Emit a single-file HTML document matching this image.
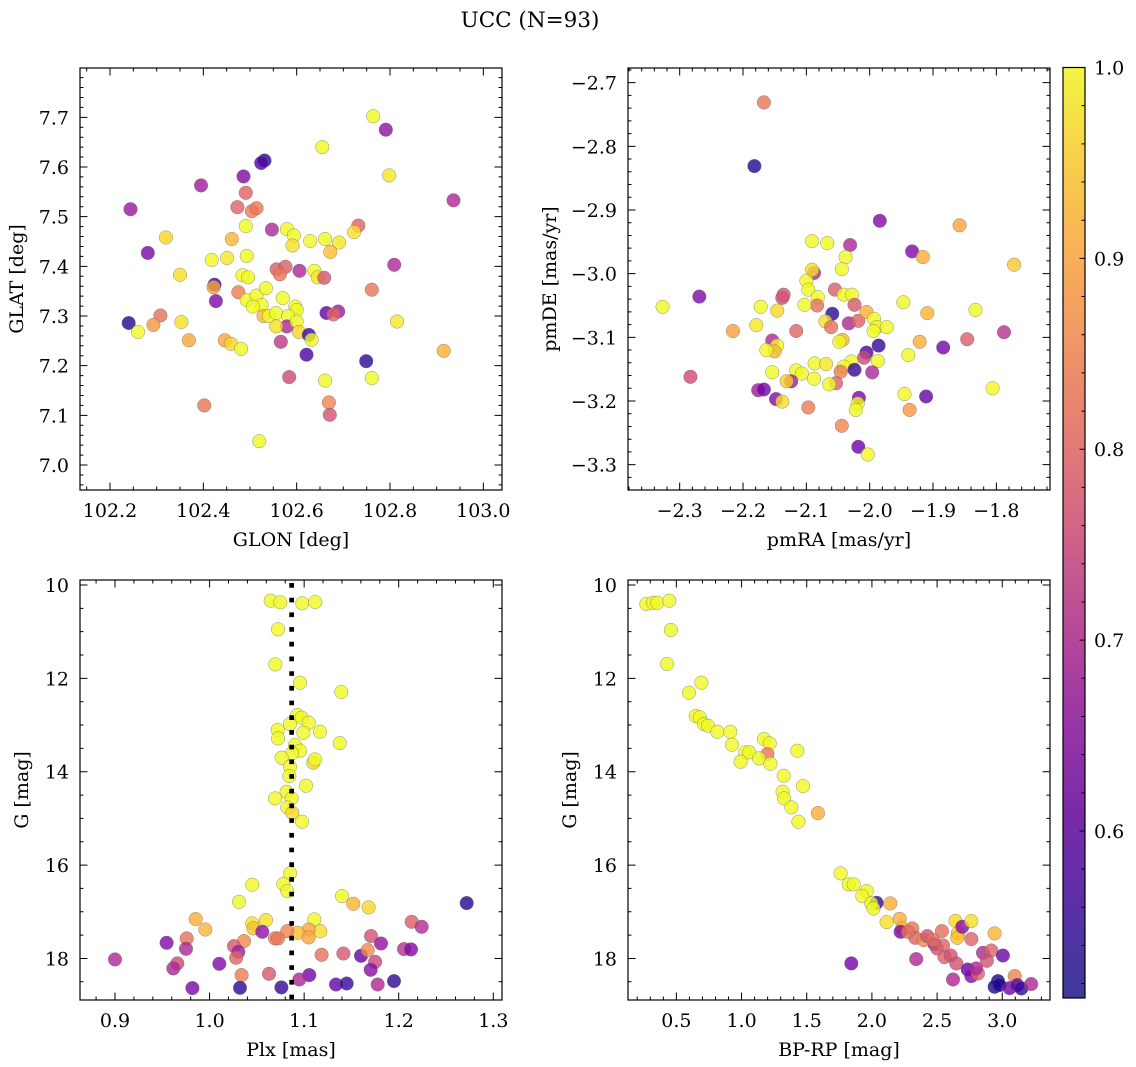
<!DOCTYPE html>
<html><head><meta charset="utf-8"><title>UCC (N=93)</title>
<style>
html,body{margin:0;padding:0;background:#fff;}
svg{display:block;font-family:"DejaVu Serif","Liberation Serif",serif;}
</style></head>
<body>
<svg id="fig" width="1136" height="1067" viewBox="0 0 1136 1067" xmlns="http://www.w3.org/2000/svg">
<defs>
<linearGradient id="plasmaGrad" x1="0" y1="1" x2="0" y2="0">
<stop offset="0" stop-color="#3d3a99"/>
<stop offset="0.1" stop-color="#5a2fa6"/>
<stop offset="0.2" stop-color="#7a2aa8"/>
<stop offset="0.3" stop-color="#9a36a6"/>
<stop offset="0.4" stop-color="#b84a98"/>
<stop offset="0.5" stop-color="#d06487"/>
<stop offset="0.6" stop-color="#e27c76"/>
<stop offset="0.7" stop-color="#f09566"/>
<stop offset="0.8" stop-color="#f8b057"/>
<stop offset="0.9" stop-color="#f8cf4a"/>
<stop offset="1" stop-color="#f2f543"/>
</linearGradient>
</defs>
<text x="530" y="27" font-size="21.5" text-anchor="middle">UCC (N=93)</text>
</svg>
<script>
// ---- Panel 1: GLON / GLAT ----
const glon = [102.764,102.791,102.655,102.531,102.524,102.486,102.798,102.395,102.936,102.244,102.491,102.473,102.504,102.514,102.491,102.547,102.579,102.594,102.591,102.461,102.32,102.629,102.661,102.691,102.672,102.732,102.723,102.281,102.418,102.451,102.493,102.35,102.484,102.496,102.557,102.576,102.564,102.606,102.638,102.645,102.659,102.424,102.422,102.427,102.475,102.493,102.514,102.534,102.525,102.506,102.57,102.597,102.6,102.761,102.809,102.664,102.689,102.679,102.529,102.541,102.556,102.582,102.579,102.556,102.6,102.605,102.626,102.632,102.24,102.26,102.308,102.293,102.353,102.369,102.446,102.459,102.481,102.566,102.621,102.749,102.761,102.661,102.584,102.815,102.915,102.669,102.671,102.402,102.52];
const glat = [7.702,7.675,7.640,7.613,7.608,7.581,7.583,7.563,7.533,7.515,7.548,7.519,7.511,7.517,7.481,7.474,7.475,7.462,7.442,7.455,7.458,7.451,7.455,7.448,7.429,7.482,7.469,7.427,7.413,7.417,7.421,7.383,7.382,7.378,7.394,7.399,7.384,7.391,7.391,7.378,7.377,7.363,7.358,7.330,7.348,7.332,7.341,7.356,7.322,7.319,7.336,7.319,7.312,7.353,7.403,7.306,7.309,7.303,7.300,7.300,7.306,7.300,7.279,7.279,7.289,7.268,7.262,7.252,7.286,7.268,7.301,7.282,7.288,7.251,7.251,7.244,7.234,7.248,7.222,7.209,7.175,7.170,7.177,7.289,7.230,7.126,7.101,7.120,7.048];
const prob1 = [1.0,0.66,1.0,0.53,0.58,0.64,0.98,0.68,0.7,0.67,0.8,0.8,0.84,0.83,1.0,0.7,1.0,1.0,0.97,0.92,0.96,1.0,1.0,0.98,0.93,0.8,0.97,0.63,1.0,0.98,1.0,0.97,1.0,1.0,0.79,0.79,0.83,0.7,1.0,0.98,0.78,0.55,0.9,0.64,0.84,1.0,1.0,1.0,1.0,1.0,1.0,1.0,1.0,0.83,0.7,0.6,0.68,0.8,0.92,1.0,1.0,1.0,0.7,0.97,1.0,0.96,0.55,1.0,0.53,1.0,0.82,0.88,0.97,0.9,0.9,0.96,1.0,0.73,0.57,0.54,1.0,1.0,0.76,0.98,0.91,0.85,0.77,0.83,1.0];
// ---- Panel 2: pmRA / pmDE ----
const pmra = [-2.167,-2.182,-1.984,-1.858,-1.772,-2.091,-2.067,-2.031,-1.933,-1.916,-2.038,-2.044,-2.088,-2.091,-2.1,-2.097,-2.055,-2.041,-2.028,-2.024,-2.082,-2.083,-2.103,-2.138,-2.136,-2.269,-2.327,-2.172,-2.146,-2.059,-2.07,-2.061,-2.033,-2.018,-2.005,-1.993,-1.989,-1.973,-1.994,-1.947,-1.909,-1.833,-2.179,-2.216,-2.116,-1.788,-1.846,-1.884,-1.921,-1.939,-1.986,-2.005,-2.009,-1.987,-2.043,-2.048,-2.154,-2.146,-2.15,-2.163,-2.087,-2.069,-2.029,-2.041,-2.024,-2.046,-1.996,-2.154,-2.116,-2.107,-2.088,-2.124,-2.131,-2.053,-2.064,-2.283,-2.176,-2.167,-2.148,-2.138,-2.097,-2.017,-2.019,-2.022,-1.945,-1.937,-1.911,-1.806,-2.044,-2.018,-2.003];
const pmde = [-2.731,-2.831,-2.917,-2.924,-2.986,-2.949,-2.952,-2.955,-2.965,-2.974,-2.974,-2.993,-2.999,-2.994,-3.011,-3.025,-3.025,-3.033,-3.033,-3.049,-3.037,-3.05,-3.049,-3.038,-3.033,-3.036,-3.052,-3.052,-3.058,-3.063,-3.075,-3.084,-3.078,-3.074,-3.06,-3.071,-3.084,-3.084,-3.09,-3.045,-3.062,-3.057,-3.081,-3.09,-3.09,-3.092,-3.103,-3.116,-3.107,-3.128,-3.113,-3.124,-3.132,-3.137,-3.104,-3.107,-3.105,-3.113,-3.122,-3.12,-3.141,-3.142,-3.138,-3.146,-3.151,-3.154,-3.155,-3.155,-3.152,-3.157,-3.165,-3.169,-3.169,-3.172,-3.174,-3.162,-3.183,-3.182,-3.197,-3.201,-3.21,-3.195,-3.204,-3.214,-3.189,-3.214,-3.193,-3.18,-3.239,-3.272,-3.284];
const prob2 = [0.83,0.53,0.64,0.9,0.94,1.0,1.0,0.7,0.64,0.91,1.0,1.0,0.7,0.97,1.0,1.0,0.79,1.0,1.0,0.78,1.0,0.82,1.0,0.75,0.78,0.64,1.0,1.0,0.96,0.54,0.97,0.82,0.7,0.8,0.91,1.0,1.0,1.0,1.0,1.0,0.92,1.0,0.98,0.89,0.8,0.72,0.79,0.62,0.91,1.0,0.55,0.57,0.76,1.0,0.92,1.0,0.7,1.0,0.92,1.0,1.0,0.98,1.0,1.0,0.55,0.84,0.7,1.0,1.0,1.0,1.0,0.68,0.95,0.8,1.0,0.76,0.68,0.62,0.64,0.97,0.84,0.63,1.0,1.0,1.0,0.88,0.6,1.0,0.85,0.61,1.0];
// ---- Panel 3: Plx / G ----
const plx = [1.0646,1.0748,1.098,1.1118,1.0724,1.0695,1.0956,1.1393,1.0928,1.0974,1.1048,1.085,1.072,1.0992,1.1168,1.0724,1.1376,1.0903,1.0956,1.087,1.0762,1.1097,1.1115,1.085,1.0843,1.102,1.0815,1.0692,1.0867,1.0822,1.0875,1.0978,1.085,1.078,1.0822,1.0452,1.0311,1.14,1.152,1.1682,1.2719,0.9853,0.9955,1.0452,1.0463,1.0597,1.0558,1.1107,1.1171,1.1048,1.0932,1.0822,1.0692,1.0724,1.1048,1.2137,1.2243,1.1707,1.1813,0.9546,0.9758,0.9751,1.0364,1.0258,1.0304,1.028,1.1185,1.1415,1.1601,1.1672,1.175,1.2056,1.213,0.9,0.9659,0.9617,1.0103,1.0339,1.0628,1.1704,1.1055,1.0949,1.195,1.1337,1.145,1.1778,0.9818,1.0322,1.0759];
const gmag3 = [10.336,10.371,10.393,10.364,10.95,11.7,12.093,12.293,12.786,12.843,12.95,12.979,13.107,13.164,13.143,13.286,13.386,13.429,13.55,13.607,13.7,13.807,13.736,13.893,14.093,14.3,14.429,14.571,14.571,14.764,14.879,15.071,16.179,16.407,16.557,16.421,16.786,16.664,16.829,16.907,16.814,17.157,17.379,17.25,17.357,17.179,17.429,17.164,17.414,17.379,17.45,17.414,17.571,17.571,17.55,17.214,17.321,17.521,17.679,17.664,17.571,17.793,17.629,17.736,17.857,17.986,17.921,17.893,17.943,17.821,18.071,17.8,17.807,18.021,18.107,18.214,18.114,18.357,18.329,18.243,18.357,18.45,18.486,18.557,18.536,18.557,18.636,18.629,18.621];
const prob3 = [1,1,1,1,1,1,1,1,1,1,1,1,1,1,1,1,1,1,1,1,1,0.96,1,1,1,1,1,1,1,1,0.96,1,1,1,1,1,1,1,0.92,0.96,0.53,0.91,0.92,0.97,0.93,0.97,0.66,1,0.97,0.9,0.93,0.85,0.84,0.83,0.9,0.79,0.71,0.77,0.66,0.64,0.82,0.7,0.86,0.78,0.68,0.8,0.82,0.78,0.6,0.86,0.75,0.72,0.64,0.7,0.76,0.7,0.64,0.84,0.78,0.65,0.62,0.7,0.54,0.6,0.55,0.7,0.63,0.54,0.55];
const plxLine = [1.0868];
// ---- Panel 4: BP-RP / G ----
const bprp = [0.27,0.321,0.354,0.446,0.457,0.428,0.692,0.597,0.648,0.679,0.712,0.743,0.814,0.914,0.927,1.172,1.216,1.029,1.06,0.993,1.198,1.134,1.221,1.428,1.323,1.471,1.315,1.326,1.382,1.586,1.436,1.76,1.822,1.86,1.96,1.926,2.036,1.995,2.011,2.141,2.113,2.213,2.233,2.22,2.31,2.333,2.397,2.425,2.481,2.501,2.537,2.545,2.557,2.604,2.647,2.64,2.66,2.655,2.693,2.762,2.762,2.941,2.852,2.916,2.882,3.005,2.735,2.762,2.813,2.8,2.622,2.34,1.842,2.967,2.941,2.979,3.056,3.095,3.115,3.146,3.222,2.277,2.468];
const gmag4 = [10.407,10.379,10.379,10.336,10.964,11.693,12.093,12.307,12.807,12.836,12.979,13.014,13.143,13.143,13.421,13.3,13.393,13.586,13.586,13.786,13.621,13.714,13.829,13.55,14.086,14.307,14.429,14.571,14.764,14.886,15.071,16.179,16.414,16.414,16.557,16.664,16.807,16.821,16.929,16.821,17.221,17.15,17.357,17.429,17.357,17.557,17.607,17.521,17.693,17.786,17.414,17.721,17.971,17.936,18.107,17.193,17.457,17.557,17.321,17.2,17.586,17.464,17.879,17.829,18.05,17.936,18.236,18.379,18.321,18.214,18.45,18.014,18.107,18.486,18.607,18.571,18.636,18.379,18.571,18.643,18.55,17.429,17.607];
const prob4 = [1,1,1,1,1,1,1,1,1,1,1,1,1,1,1,1,1,1,1,1,0.83,1,1,1,1,1,1,1,1,0.91,1,1,1,1,1,1,0.55,1,1,0.91,0.97,0.91,0.92,0.63,0.83,0.8,0.86,0.77,0.65,0.78,0.82,0.8,0.8,0.77,0.77,0.96,0.95,0.93,0.65,0.97,0.8,0.92,0.7,0.8,0.77,0.61,0.6,0.64,0.8,0.7,0.7,0.7,0.62,0.52,0.52,0.53,0.62,0.85,0.6,0.55,0.7,0.82,0.82];
// ---- Colorbar ----
const cbTicks = [0.6,0.7,0.8,0.9,1.0];
const cbLabels = ["0.6","0.7","0.8","0.9","1.0"];
const vmin = 0.5125, vmax = 1.0;
const p1xTicks=[102.2,102.4,102.6,102.8,103.0], p1xLabels=["102.2","102.4","102.6","102.8","103.0"];
const p1yTicks=[7.0,7.1,7.2,7.3,7.4,7.5,7.6,7.7], p1yLabels=["7.0","7.1","7.2","7.3","7.4","7.5","7.6","7.7"];
const p2xTicks=[-2.3,-2.2,-2.1,-2.0,-1.9,-1.8], p2xLabels=["\u22122.3","\u22122.2","\u22122.1","\u22122.0","\u22121.9","\u22121.8"];
const p2yTicks=[-2.7,-2.8,-2.9,-3.0,-3.1,-3.2,-3.3], p2yLabels=["\u22122.7","\u22122.8","\u22122.9","\u22123.0","\u22123.1","\u22123.2","\u22123.3"];
const p3xTicks=[0.9,1.0,1.1,1.2,1.3], p3xLabels=["0.9","1.0","1.1","1.2","1.3"];
const gTicks=[10,12,14,16,18], gLabels=["10","12","14","16","18"];
const p4xTicks=[0.5,1.0,1.5,2.0,2.5,3.0], p4xLabels=["0.5","1.0","1.5","2.0","2.5","3.0"];

const NS="http://www.w3.org/2000/svg";
const svg=document.getElementById('fig');
const FS=19;
function mk(tag,attrs,parent){const e=document.createElementNS(NS,tag);for(const k in attrs)e.setAttribute(k,attrs[k]);(parent||svg).appendChild(e);return e;}
const stops=[[0,[13,8,135]],[0.1,[65,4,157]],[0.2,[106,0,168]],[0.3,[143,13,164]],[0.4,[177,42,144]],[0.5,[204,71,120]],[0.6,[225,100,98]],[0.7,[242,132,75]],[0.8,[252,166,54]],[0.9,[252,206,37]],[1,[240,249,33]]];
function plasma(t){t=Math.max(0,Math.min(1,t));for(let i=1;i<stops.length;i++){if(t<=stops[i][0]){const a=stops[i-1],b=stops[i],f=(t-a[0])/(b[0]-a[0]);return 'rgb('+[0,1,2].map(j=>Math.round(a[1][j]+f*(b[1][j]-a[1][j]))).join(',')+')';}}return 'rgb(240,249,33)';}

function panel(cfg){
  const {name,L,T,R,B,xd,yd,xTicks,xLabels,yTicks,yLabels,xMinor,yMinor,xs,ys,ps,xlabel,ylabel,ylabelX}=cfg;
  const g=mk('g',{});
  
  
  const X=v=>L+(v-xd[0])/(xd[1]-xd[0])*(R-L);
  const Y=v=>T+(v-yd[0])/(yd[1]-yd[0])*(B-T);
  const pg=mk('g',{},g);
  
  
  const clip='clip-'+name;
  const cp=mk('clipPath',{id:clip},g);mk('rect',{x:L,y:T,width:R-L,height:B-T},cp);
  pg.setAttribute('clip-path','url(#'+clip+')');
  for(let i=0;i<xs.length;i++){
    const c=mk('circle',{cx:X(xs[i]).toFixed(1),cy:Y(ys[i]).toFixed(1),r:6.8,fill:plasma((ps[i]-vmin)/(vmax-vmin)),'fill-opacity':0.8,stroke:'#666','stroke-opacity':0.7,'stroke-width':0.5},pg);
    
    
  }
  if(cfg.after)cfg.after(g,X,Y);
  const fr=mk('rect',{x:L,y:T,width:R-L,height:B-T,fill:'none',stroke:'#000','stroke-width':1.2},g);
  
  
  let d='';
  const lo=Math.ceil(Math.min(...xd)/xMinor-1e-6),hi=Math.floor(Math.max(...xd)/xMinor+1e-6);
  for(let k=lo;k<=hi;k++){const v=k*xMinor,x=X(v);d+=`M${x},${B}v-3.5M${x},${T}v3.5`;}
  const ylo=Math.ceil(Math.min(...yd)/yMinor-1e-6),yhi=Math.floor(Math.max(...yd)/yMinor+1e-6);
  for(let k=ylo;k<=yhi;k++){const v=k*yMinor,y=Y(v);d+=`M${L},${y}h3.5M${R},${y}h-3.5`;}
  xTicks.forEach(v=>{const x=X(v);d+=`M${x},${B}v-7.5M${x},${T}v7.5`;});
  yTicks.forEach(v=>{const y=Y(v);d+=`M${L},${y}h7.5M${R},${y}h-7.5`;});
  mk('path',{d:d,stroke:'#000','stroke-width':1},g);
  xTicks.forEach((v,i)=>{const t=mk('text',{x:X(v),y:B+27,'font-size':FS,'text-anchor':'middle'},g);t.textContent=xLabels[i];
    
    });
  yTicks.forEach((v,i)=>{const t=mk('text',{x:L-11,y:Y(v)+7,'font-size':FS,'text-anchor':'end'},g);t.textContent=yLabels[i];
    
    });
  const xl=mk('text',{x:(L+R)/2,y:B+56,'font-size':FS,'text-anchor':'middle'},g);xl.textContent=xlabel;
  
  
  const cy=(T+B)/2;
  const yl=mk('text',{x:ylabelX,y:cy,'font-size':FS,'text-anchor':'middle',transform:`rotate(-90 ${ylabelX} ${cy})`},g);yl.textContent=ylabel;
  
  
}

panel({name:'glon-glat-panel',L:80,T:68,R:502,B:490,xd:[102.1357,103.04],yd:[7.7993,6.9497],xTicks:p1xTicks,xLabels:p1xLabels,yTicks:p1yTicks,yLabels:p1yLabels,xMinor:0.05,yMinor:0.02,xs:glon,ys:glat,ps:prob1,xlabel:'GLON [deg]',ylabel:'GLAT [deg]',ylabelX:23});
panel({name:'pm-panel',L:628,T:68,R:1050,B:490,xd:[-2.3816,-1.7153],yd:[-2.677,-3.3398],xTicks:p2xTicks,xLabels:p2xLabels,yTicks:p2yTicks,yLabels:p2yLabels,xMinor:0.02,yMinor:0.02,xs:pmra,ys:pmde,ps:prob2,xlabel:'pmRA [mas/yr]',ylabel:'pmDE [mas/yr]',ylabelX:556});
panel({name:'plx-g-panel',L:80,T:580,R:502,B:1000,xd:[0.863,1.3092],yd:[9.893,18.89],xTicks:p3xTicks,xLabels:p3xLabels,yTicks:gTicks,yLabels:gLabels,xMinor:0.02,yMinor:0.5,xs:plx,ys:gmag3,ps:prob3,xlabel:'Plx [mas]',ylabel:'G [mag]',ylabelX:28,
  after:(g,X,Y)=>{const l=mk('line',{x1:X(plxLine[0]),x2:X(plxLine[0]),y1:583,y2:1000,stroke:'#000','stroke-width':4.7,'stroke-dasharray':'4.7 10'},g);
    
    }});
panel({name:'cmd-panel',L:628,T:580,R:1050,B:1000,xd:[0.129,3.366],yd:[9.893,18.89],xTicks:p4xTicks,xLabels:p4xLabels,yTicks:gTicks,yLabels:gLabels,xMinor:0.1,yMinor:0.5,xs:bprp,ys:gmag4,ps:prob4,xlabel:'BP-RP [mag]',ylabel:'G [mag]',ylabelX:576});

(function(){
  const L=1063,R=1085,T=67.5,B=998;
  const g=mk('g',{});
  
  
  const Y=v=>B-(v-vmin)/(vmax-vmin)*(B-T);
  mk('rect',{x:L,y:T,width:R-L,height:B-T,fill:'url(#plasmaGrad)',stroke:'#000','stroke-width':1.2},g);
  let d='';
  for(let k=Math.ceil(vmin/0.02);k<=50;k++){const y=Y(k*0.02);d+=`M${R},${y}h-3.5`;}
  cbTicks.forEach(v=>{d+=`M${R},${Y(v)}h-5.5`;});
  mk('path',{d:d,stroke:'#000','stroke-width':1},g);
  cbTicks.forEach((v,i)=>{const t=mk('text',{x:R+9,y:Y(v)+7,'font-size':FS},g);t.textContent=cbLabels[i];
    
    });
})();
</script>
</body></html>
